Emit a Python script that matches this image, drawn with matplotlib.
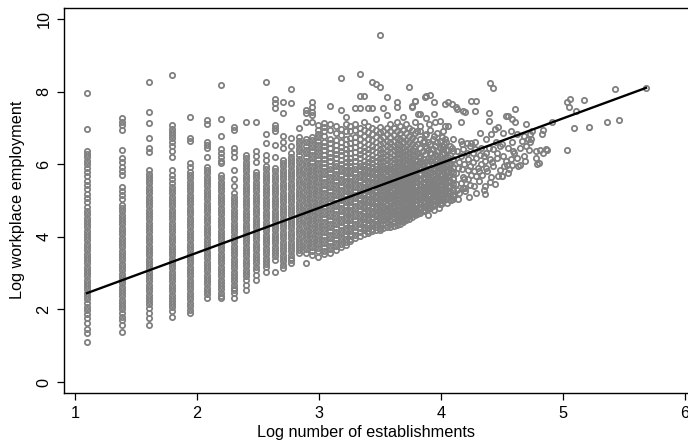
import numpy as np
import matplotlib
matplotlib.use("Agg")
import matplotlib.pyplot as plt

plt.rcParams['font.family'] = ['Liberation Sans', 'DejaVu Sans']

# ---------------- data ----------------
# number of establishments (columns at low counts) and log employment values per column
small_counts = [3, 4, 5, 6, 7, 8, 9, 10, 11, 12, 13, 14, 15, 16, 17, 18, 19, 20]
small_emp = [
    [7.95, 6.96, 6.37, 6.28, 6.19, 6.1, 6.0, 5.9, 5.79, 5.67, 5.55, 5.43, 5.31, 5.19, 5.07, 4.95, 4.83, 4.72, 4.62, 4.53, 4.44, 4.35, 4.26, 4.17, 4.08, 3.99, 3.9, 3.81, 3.72, 3.63, 3.54, 3.45, 3.36, 3.27, 3.18, 3.09, 3.0, 2.91, 2.82, 2.73, 2.64, 2.55, 2.46, 2.37, 2.28, 2.19, 2.08, 1.98, 1.88, 1.76, 1.63, 1.47, 1.36, 1.11],
    [7.26, 7.17, 7.08, 6.94, 6.39, 6.16, 6.05, 5.93, 5.81, 5.7, 5.38, 5.27, 5.15, 5.03, 4.88, 4.79, 4.7, 4.61, 4.52, 4.43, 4.34, 4.25, 4.16, 4.07, 3.98, 3.89, 3.8, 3.71, 3.62, 3.53, 3.44, 3.35, 3.26, 3.17, 3.08, 2.99, 2.9, 2.81, 2.72, 2.63, 2.54, 2.45, 2.36, 2.27, 2.18, 2.09, 2.0, 1.9, 1.8, 1.71, 1.57, 1.39],
    [8.27, 7.45, 7.13, 6.71, 6.45, 6.33, 5.84, 5.74, 5.65, 5.56, 5.47, 5.38, 5.29, 5.2, 5.11, 5.02, 4.93, 4.84, 4.75, 4.66, 4.57, 4.48, 4.39, 4.3, 4.21, 4.12, 4.03, 3.94, 3.85, 3.76, 3.67, 3.58, 3.49, 3.4, 3.31, 3.22, 3.13, 3.04, 2.95, 2.86, 2.77, 2.68, 2.59, 2.5, 2.41, 2.32, 2.23, 2.14, 2.03, 1.9, 1.76, 1.57],
    [8.46, 7.08, 6.98, 6.88, 6.8, 6.71, 6.62, 6.49, 6.35, 6.21, 5.84, 5.7, 5.6, 5.47, 5.38, 5.29, 5.2, 5.11, 5.02, 4.93, 4.84, 4.75, 4.66, 4.57, 4.48, 4.39, 4.3, 4.21, 4.12, 4.03, 3.94, 3.85, 3.76, 3.67, 3.58, 3.49, 3.4, 3.31, 3.22, 3.13, 3.04, 2.95, 2.86, 2.77, 2.68, 2.59, 2.5, 2.41, 2.32, 2.23, 2.14, 2.07, 1.95, 1.8],
    [7.29, 6.72, 6.64, 6.04, 5.93, 5.79, 5.7, 5.61, 5.52, 5.43, 5.34, 5.25, 5.16, 5.07, 4.98, 4.89, 4.8, 4.71, 4.62, 4.53, 4.44, 4.35, 4.26, 4.17, 4.08, 3.99, 3.9, 3.81, 3.72, 3.63, 3.54, 3.45, 3.36, 3.27, 3.18, 3.09, 3.0, 2.91, 2.82, 2.73, 2.64, 2.55, 2.46, 2.37, 2.28, 2.19, 2.1, 1.98, 1.9],
    [7.22, 7.1, 6.62, 6.53, 6.44, 6.21, 5.93, 5.84, 5.75, 5.66, 5.57, 5.48, 5.39, 5.3, 5.21, 5.12, 5.03, 4.94, 4.85, 4.76, 4.67, 4.58, 4.49, 4.4, 4.31, 4.22, 4.13, 4.04, 3.95, 3.86, 3.77, 3.68, 3.59, 3.5, 3.41, 3.32, 3.23, 3.14, 3.05, 2.96, 2.87, 2.78, 2.69, 2.6, 2.51, 2.42, 2.31],
    [8.18, 7.24, 6.78, 6.41, 6.3, 6.2, 6.1, 6.02, 5.7, 5.61, 5.52, 5.43, 5.34, 5.25, 5.16, 5.07, 4.98, 4.89, 4.8, 4.71, 4.62, 4.53, 4.44, 4.35, 4.26, 4.17, 4.08, 3.99, 3.9, 3.81, 3.72, 3.63, 3.54, 3.45, 3.36, 3.27, 3.18, 3.09, 3.0, 2.91, 2.82, 2.73, 2.64, 2.55, 2.46, 2.38, 2.31],
    [7.03, 6.94, 6.45, 6.33, 6.21, 5.84, 5.6, 5.4, 5.2, 5.11, 5.02, 4.93, 4.84, 4.75, 4.66, 4.57, 4.48, 4.39, 4.3, 4.21, 4.12, 4.03, 3.94, 3.85, 3.76, 3.67, 3.58, 3.49, 3.4, 3.31, 3.22, 3.13, 3.04, 2.95, 2.86, 2.77, 2.68, 2.6, 2.53, 2.45, 2.31],
    [7.17, 6.25, 6.16, 6.07, 5.98, 5.89, 5.8, 5.71, 5.62, 5.53, 5.44, 5.35, 5.26, 5.17, 5.08, 4.99, 4.9, 4.81, 4.72, 4.63, 4.54, 4.45, 4.36, 4.27, 4.18, 4.09, 4.0, 3.91, 3.82, 3.73, 3.64, 3.55, 3.46, 3.37, 3.28, 3.19, 3.1, 3.01, 2.92, 2.81, 2.67, 2.53],
    [7.17, 6.37, 6.22, 6.07, 5.79, 5.7, 5.61, 5.52, 5.43, 5.34, 5.25, 5.16, 5.07, 4.98, 4.89, 4.8, 4.71, 4.62, 4.53, 4.44, 4.35, 4.26, 4.17, 4.08, 3.99, 3.9, 3.81, 3.72, 3.63, 3.54, 3.45, 3.36, 3.27, 3.18, 3.09, 2.95, 2.81],
    [8.25, 6.83, 6.58, 6.25, 6.12, 5.95, 5.86, 5.77, 5.68, 5.59, 5.5, 5.41, 5.32, 5.23, 5.14, 5.05, 4.96, 4.87, 4.78, 4.69, 4.6, 4.51, 4.42, 4.33, 4.24, 4.15, 4.06, 3.97, 3.88, 3.79, 3.7, 3.61, 3.52, 3.43, 3.34, 3.25, 3.16, 3.04],
    [7.79, 7.68, 7.54, 7.08, 6.99, 6.9, 6.53, 6.21, 5.89, 5.8, 5.71, 5.62, 5.53, 5.44, 5.35, 5.26, 5.17, 5.08, 4.99, 4.9, 4.81, 4.72, 4.63, 4.54, 4.45, 4.36, 4.27, 4.18, 4.09, 4.0, 3.91, 3.82, 3.73, 3.64, 3.55, 3.46, 3.36, 3.04],
    [7.72, 7.4, 6.78, 6.62, 6.45, 6.12, 6.03, 5.94, 5.85, 5.76, 5.67, 5.58, 5.49, 5.4, 5.31, 5.22, 5.13, 5.04, 4.95, 4.86, 4.77, 4.68, 4.59, 4.5, 4.41, 4.32, 4.23, 4.14, 4.05, 3.96, 3.87, 3.78, 3.69, 3.6, 3.51, 3.42, 3.33, 3.23, 3.14],
    [8.06, 7.68, 6.72, 6.5, 6.3, 6.21, 6.12, 6.03, 5.94, 5.85, 5.76, 5.67, 5.58, 5.49, 5.4, 5.31, 5.22, 5.13, 5.04, 4.95, 4.86, 4.77, 4.68, 4.59, 4.5, 4.41, 4.32, 4.23, 4.14, 4.05, 3.96, 3.87, 3.78, 3.69, 3.6, 3.51, 3.42, 3.35, 3.28],
    [7.0, 6.76, 6.65, 6.55, 6.45, 6.35, 6.25, 6.15, 6.05, 5.96, 5.87, 5.78, 5.69, 5.6, 5.51, 5.42, 5.33, 5.24, 5.15, 5.06, 4.97, 4.88, 4.79, 4.7, 4.61, 4.52, 4.43, 4.34, 4.25, 4.16, 4.07, 3.98, 3.89, 3.8, 3.71, 3.63, 3.55],
    [7.49, 7.4, 7.17, 6.7, 6.6, 6.5, 6.4, 6.3, 6.2, 6.1, 6.0, 5.91, 5.82, 5.73, 5.64, 5.55, 5.46, 5.37, 5.28, 5.19, 5.1, 5.01, 4.92, 4.83, 4.74, 4.65, 4.56, 4.47, 4.38, 4.29, 4.2, 4.11, 4.02, 3.93, 3.84, 3.75, 3.66, 3.55, 3.28],
    [7.7, 7.58, 7.45, 7.36, 7.17, 6.76, 6.66, 6.56, 6.46, 6.36, 6.26, 6.16, 6.06, 5.96, 5.87, 5.78, 5.69, 5.6, 5.51, 5.42, 5.33, 5.24, 5.15, 5.06, 4.97, 4.88, 4.79, 4.7, 4.61, 4.52, 4.43, 4.34, 4.25, 4.16, 4.07, 3.98, 3.89, 3.8, 3.71, 3.6, 3.5],
    [7.08, 6.94, 6.84, 6.74, 6.64, 6.54, 6.44, 6.34, 6.24, 6.14, 6.04, 5.95, 5.86, 5.77, 5.68, 5.59, 5.5, 5.41, 5.32, 5.23, 5.14, 5.05, 4.96, 4.87, 4.78, 4.69, 4.6, 4.51, 4.42, 4.33, 4.24, 4.15, 4.06, 3.97, 3.88, 3.79, 3.7, 3.6, 3.45],
]

mid_counts = list(range(21, 61))
mid_emp = [
    [7.14, 7.03, 6.9, 6.78, 6.62, 6.5, 6.38, 6.26, 6.14, 6.02, 5.92, 5.82, 5.72, 5.62, 5.52, 5.42, 5.32, 5.22, 5.12, 5.02, 4.92, 4.82, 4.72, 4.62, 4.52, 4.42, 4.32, 4.22, 4.12, 4.02, 3.92, 3.82, 3.72, 3.62, 3.52],
    [7.6, 7.1, 6.95, 6.7, 6.58, 6.45, 6.32, 6.2, 6.08, 5.96, 5.86, 5.76, 5.66, 5.56, 5.46, 5.36, 5.26, 5.16, 5.06, 4.96, 4.86, 4.76, 4.66, 4.56, 4.46, 4.36, 4.26, 4.16, 4.06, 3.96, 3.86, 3.76, 3.66, 3.56],
    [7.05, 6.85, 6.66, 6.52, 6.4, 6.28, 6.16, 6.04, 5.94, 5.84, 5.74, 5.64, 5.54, 5.44, 5.34, 5.24, 5.14, 5.04, 4.94, 4.84, 4.74, 4.64, 4.54, 4.44, 4.34, 4.24, 4.14, 4.04, 3.94, 3.84, 3.74, 3.65],
    [8.36, 7.5, 6.98, 6.8, 6.62, 6.48, 6.36, 6.24, 6.12, 6.0, 5.9, 5.8, 5.7, 5.6, 5.5, 5.4, 5.3, 5.2, 5.1, 5.0, 4.9, 4.8, 4.7, 4.6, 4.5, 4.4, 4.3, 4.2, 4.1, 4.0, 3.9, 3.8, 3.72],
    [7.3, 7.1, 6.9, 6.7, 6.55, 6.42, 6.3, 6.18, 6.06, 5.95, 5.85, 5.75, 5.65, 5.55, 5.45, 5.35, 5.25, 5.15, 5.05, 4.95, 4.85, 4.75, 4.65, 4.55, 4.45, 4.35, 4.25, 4.15, 4.05, 3.95, 3.85, 3.77],
    [7.05, 6.9, 6.72, 6.58, 6.44, 6.3, 6.18, 6.06, 5.95, 5.85, 5.75, 5.65, 5.55, 5.45, 5.35, 5.25, 5.15, 5.05, 4.95, 4.85, 4.75, 4.65, 4.55, 4.45, 4.35, 4.25, 4.15, 4.05, 3.95, 3.88],
    [7.56, 7.1, 6.95, 6.75, 6.6, 6.46, 6.33, 6.2, 6.08, 5.96, 5.86, 5.76, 5.66, 5.56, 5.46, 5.36, 5.26, 5.16, 5.06, 4.96, 4.86, 4.76, 4.66, 4.56, 4.46, 4.36, 4.26, 4.16, 4.06, 3.96],
    [8.48, 7.88, 7.56, 7.0, 6.85, 6.68, 6.52, 6.4, 6.28, 6.16, 6.04, 5.94, 5.84, 5.74, 5.64, 5.54, 5.44, 5.34, 5.24, 5.14, 5.04, 4.94, 4.84, 4.74, 4.64, 4.54, 4.44, 4.34, 4.24, 4.14, 4.02],
    [7.88, 7.15, 6.95, 6.78, 6.62, 6.48, 6.35, 6.22, 6.1, 5.98, 5.88, 5.78, 5.68, 5.58, 5.48, 5.38, 5.28, 5.18, 5.08, 4.98, 4.88, 4.78, 4.68, 4.58, 4.48, 4.38, 4.28, 4.18, 4.08],
    [7.56, 7.05, 6.88, 6.7, 6.55, 6.42, 6.3, 6.18, 6.06, 5.95, 5.85, 5.75, 5.65, 5.55, 5.45, 5.35, 5.25, 5.15, 5.05, 4.95, 4.85, 4.75, 4.65, 4.55, 4.45, 4.35, 4.25, 4.15, 4.1],
    [8.27, 7.56, 7.0, 6.82, 6.66, 6.5, 6.38, 6.26, 6.14, 6.02, 5.92, 5.82, 5.72, 5.62, 5.52, 5.42, 5.32, 5.22, 5.12, 5.02, 4.92, 4.82, 4.72, 4.62, 4.52, 4.42, 4.32, 4.22, 4.15],
    [8.2, 7.24, 6.95, 6.76, 6.6, 6.46, 6.33, 6.2, 6.08, 5.96, 5.86, 5.76, 5.66, 5.56, 5.46, 5.36, 5.26, 5.16, 5.06, 4.96, 4.86, 4.76, 4.66, 4.56, 4.46, 4.36, 4.26, 4.18],
    [9.56, 8.13, 7.03, 6.88, 6.7, 6.55, 6.42, 6.3, 6.18, 6.06, 5.95, 5.85, 5.75, 5.65, 5.55, 5.45, 5.35, 5.25, 5.15, 5.05, 4.95, 4.85, 4.75, 4.65, 4.55, 4.45, 4.35, 4.25, 4.2],
    [7.56, 6.9, 6.74, 6.58, 6.44, 6.32, 6.2, 6.08, 5.96, 5.86, 5.76, 5.66, 5.56, 5.46, 5.36, 5.26, 5.16, 5.06, 4.96, 4.86, 4.76, 4.66, 4.56, 4.46, 4.36, 4.24],
    [7.84, 7.36, 7.0, 6.82, 6.65, 6.5, 6.36, 6.24, 6.12, 6.0, 5.9, 5.8, 5.7, 5.6, 5.5, 5.4, 5.3, 5.2, 5.1, 5.0, 4.9, 4.8, 4.7, 4.6, 4.5, 4.4, 4.26],
    [7.1, 6.92, 6.75, 6.6, 6.46, 6.33, 6.2, 6.08, 5.96, 5.86, 5.76, 5.66, 5.56, 5.46, 5.36, 5.26, 5.16, 5.06, 4.96, 4.86, 4.76, 4.66, 4.56, 4.46, 4.36, 4.28],
    [7.0, 6.8, 6.64, 6.5, 6.38, 6.26, 6.14, 6.02, 5.92, 5.82, 5.72, 5.62, 5.52, 5.42, 5.32, 5.22, 5.12, 5.02, 4.92, 4.82, 4.72, 4.62, 4.52, 4.42, 4.3],
    [7.7, 7.58, 7.17, 6.9, 6.72, 6.56, 6.42, 6.3, 6.18, 6.06, 5.95, 5.85, 5.75, 5.65, 5.55, 5.45, 5.35, 5.25, 5.15, 5.05, 4.95, 4.85, 4.75, 4.65, 4.55, 4.45, 4.32],
    [7.05, 6.85, 6.68, 6.52, 6.4, 6.28, 6.16, 6.04, 5.94, 5.84, 5.74, 5.64, 5.54, 5.44, 5.34, 5.24, 5.14, 5.04, 4.94, 4.84, 4.74, 4.64, 4.54, 4.44, 4.35],
    [7.29, 6.95, 6.76, 6.6, 6.46, 6.33, 6.2, 6.08, 5.96, 5.86, 5.76, 5.66, 5.56, 5.46, 5.36, 5.26, 5.16, 5.06, 4.96, 4.86, 4.76, 4.66, 4.56, 4.46, 4.4],
    [7.1, 6.85, 6.66, 6.5, 6.36, 6.24, 6.12, 6.0, 5.9, 5.8, 5.7, 5.6, 5.5, 5.4, 5.3, 5.2, 5.1, 5.0, 4.9, 4.8, 4.7, 4.6, 4.5, 4.45],
    [8.13, 7.0, 6.78, 6.6, 6.45, 6.32, 6.2, 6.08, 5.96, 5.86, 5.76, 5.66, 5.56, 5.46, 5.36, 5.26, 5.16, 5.06, 4.96, 4.86, 4.76, 4.66, 4.56, 4.5],
    [7.58, 6.94, 6.72, 6.55, 6.4, 6.26, 6.14, 6.02, 5.92, 5.82, 5.72, 5.62, 5.52, 5.42, 5.32, 5.22, 5.12, 5.02, 4.92, 4.82, 4.72, 4.62, 4.55],
    [7.74, 7.17, 6.86, 6.66, 6.5, 6.36, 6.24, 6.12, 6.0, 5.9, 5.8, 5.7, 5.6, 5.5, 5.4, 5.3, 5.2, 5.1, 5.0, 4.9, 4.8, 4.7, 4.6],
    [6.9, 6.55, 6.3, 6.1, 5.95, 5.8, 5.65, 5.5, 5.38, 5.25, 5.12, 5.0, 4.88, 4.75, 4.62],
    [7.05, 6.7, 6.45, 6.22, 6.02, 5.86, 5.72, 5.58, 5.44, 5.3, 5.18, 5.05, 4.92, 4.78, 4.66],
    [6.6, 6.35, 6.15, 5.98, 5.8, 5.64, 5.5, 5.36, 5.22, 5.1, 4.98, 4.85, 4.72],
    [6.8, 6.5, 6.28, 6.06, 5.9, 5.74, 5.6, 5.46, 5.32, 5.2, 5.06, 4.94, 4.82, 4.74],
    [6.62, 6.4, 6.18, 6.0, 5.82, 5.66, 5.52, 5.38, 5.25, 5.12, 5.0, 4.88, 4.76],
    [6.95, 6.56, 6.3, 6.08, 5.9, 5.75, 5.6, 5.46, 5.32, 5.18, 5.05, 4.92, 4.8],
    [6.7, 6.42, 6.2, 6.0, 5.84, 5.68, 5.54, 5.4, 5.26, 5.12, 4.98, 4.84],
    [6.5, 6.28, 6.08, 5.9, 5.74, 5.58, 5.44, 5.3, 5.17, 5.04, 4.9],
    [6.85, 6.6, 6.36, 6.15, 5.96, 5.8, 5.64, 5.5, 5.36, 5.22, 5.08, 4.92],
    [6.45, 6.22, 6.02, 5.86, 5.7, 5.55, 5.42, 5.28, 5.14, 5.0, 4.9],
    [6.75, 6.5, 6.28, 6.08, 5.9, 5.74, 5.58, 5.44, 5.3, 5.16, 5.02, 4.94],
    [6.55, 6.3, 6.1, 5.92, 5.76, 5.6, 5.45, 5.3, 5.16, 5.02],
    [6.62, 6.38, 6.16, 5.96, 5.78, 5.62, 5.47, 5.32, 5.18, 5.05],
    [6.4, 6.2, 6.0, 5.82, 5.66, 5.5, 5.36, 5.22, 5.08],
    [6.5, 6.25, 6.04, 5.86, 5.7, 5.55, 5.4, 5.26, 5.12, 5.02],
    [6.35, 6.12, 5.92, 5.75, 5.6, 5.45, 5.3, 5.16, 5.04],
]

# larger places: (log establishments, log employment) pairs
large_log_estab = [
    3.87, 3.91, 3.94, 4.40, 4.43, 5.03, 5.06,
    4.03, 4.06, 4.09, 4.13, 4.18, 4.25, 4.29, 4.28, 4.61,
    3.83, 3.88, 3.94, 3.90, 3.95, 3.99, 4.03, 4.02, 4.06, 4.16, 4.39, 4.39, 4.53, 4.55, 4.58, 4.61, 4.70, 4.91,
    3.83, 3.88, 3.86, 3.94, 3.99, 4.03, 4.10, 4.16, 4.21, 4.25, 4.32, 4.37, 4.41, 4.44, 4.47, 4.51, 4.57, 4.62, 4.68, 4.73, 4.74, 4.83,
    3.88, 3.95, 4.02, 4.09, 4.18, 4.24, 4.28, 4.33, 4.37, 4.43, 4.48, 4.55, 4.59, 4.65, 4.70, 4.78, 4.86, 4.81,
    3.83, 3.91, 3.97, 4.03, 4.10, 4.16, 4.22, 4.29, 4.35, 4.40, 4.46, 4.51, 4.57, 4.62, 4.68, 4.78, 4.80,
    3.86, 3.94, 3.99, 4.05, 4.10, 4.17, 4.24, 4.31, 4.37, 4.43, 4.50, 4.47, 4.56, 4.65, 4.58,
    3.83, 3.90, 3.97, 4.03, 4.10, 4.16, 4.22, 4.29, 4.36, 4.29, 4.36, 4.18, 4.24, 4.13,
    3.86, 3.92, 3.99, 4.06, 4.10, 4.02, 3.95, 3.88, 3.83, 3.91, 3.98, 4.05, 3.86,
    3.85, 3.89, 3.93, 3.96, 3.84, 3.87, 3.92, 3.97, 4.00, 4.04, 4.07, 4.12, 4.15, 4.20, 4.26,
    3.81, 3.84, 3.89, 3.94, 4.00, 4.08, 4.14, 4.19, 4.27, 4.33, 4.40, 4.45, 4.52,
    4.79, 4.84, 4.87, 4.84, 5.03, 5.05, 5.11, 5.09, 5.17, 5.21, 5.36, 5.46, 5.43, 5.68,
    4.50, 4.54, 4.73, 4.71, 4.12, 4.20, 3.81, 3.88, 3.79, 3.76,
    4.11, 4.12, 4.13, 4.14, 4.15, 4.17, 4.18, 4.19, 4.20, 4.21, 4.22, 4.23, 4.25, 4.26, 4.27, 4.28, 4.30, 4.31, 4.32, 4.34,
    4.35, 4.36, 4.38, 4.39, 4.41, 4.42, 4.44, 4.46, 4.48, 4.50, 4.53, 4.55, 4.58, 4.60, 4.63, 4.66, 4.69, 4.72, 4.75,
]
large_log_emp = [
    7.86, 7.90, 7.70, 8.23, 8.09, 7.70, 7.79,
    7.65, 7.72, 7.65, 7.51, 7.47, 7.74, 7.74, 7.47, 7.53,
    7.38, 7.28, 7.38, 7.10, 7.15, 7.19, 7.05, 6.92, 7.05, 7.15, 7.42, 7.19, 7.33, 7.33, 7.24, 7.15, 7.10, 7.15,
    6.92, 6.82, 6.64, 6.78, 6.64, 6.69, 6.69, 6.64, 6.59, 6.59, 6.85, 6.69, 6.82, 6.96, 7.01, 6.87, 6.92, 6.82, 6.78, 6.82, 6.69, 6.82,
    6.45, 6.50, 6.41, 6.45, 6.41, 6.50, 6.41, 6.45, 6.32, 6.41, 6.50, 6.45, 6.36, 6.45, 6.50, 6.36, 6.43, 6.39,
    6.18, 6.13, 6.22, 6.18, 6.13, 6.22, 6.13, 6.18, 6.22, 6.13, 6.18, 6.22, 6.13, 6.18, 6.22, 6.16, 6.04,
    5.86, 5.86, 5.95, 5.81, 5.90, 5.86, 5.95, 5.81, 5.90, 5.95, 5.67, 5.67, 5.86, 5.99, 5.99,
    5.58, 5.63, 5.53, 5.58, 5.63, 5.49, 5.58, 5.67, 5.40, 5.21, 5.17, 5.35, 5.44, 5.30,
    5.26, 5.30, 5.21, 5.26, 5.12, 5.03, 4.98, 5.03, 4.94, 4.84, 4.80, 4.94, 4.70,
    6.00, 5.70, 5.45, 5.10, 5.40, 5.15, 6.30, 5.75, 5.45, 6.00, 5.40, 5.75, 6.05, 5.25, 6.30,
    4.65, 4.80, 4.60, 4.75, 4.90, 5.00, 5.05, 5.60, 5.80, 6.00, 5.50, 6.60, 5.95,
    6.00, 6.30, 6.39, 6.95, 6.39, 7.57, 7.47, 7.00, 7.77, 7.02, 7.17, 7.22, 8.07, 8.09,
    5.68, 5.99, 6.60, 6.70, 7.57, 7.45, 7.38, 7.87, 7.74, 7.60,
    5.15, 5.45, 6.35, 5.90, 5.20, 6.55, 5.65, 6.00, 5.35, 6.30, 5.85, 5.10, 5.70, 6.05, 5.40, 6.60, 5.90, 5.55, 6.25, 5.70,
    5.30, 6.10, 5.80, 6.45, 5.65, 6.05, 5.45, 6.30, 5.85, 6.55, 6.10, 5.75, 6.60, 6.30, 5.95, 6.65, 6.10, 6.40, 6.90,
]

# fitted regression line (end points)
fit_log_estab = [1.0986, 5.68]
fit_log_emp = [2.45, 8.10]

# ---------------- assemble ----------------
xs, ys = [], []
for n, col in zip(small_counts + mid_counts, small_emp + mid_emp):
    xs.extend([np.log(n)] * len(col))
    ys.extend(col)
xs.extend(large_log_estab)
ys.extend(large_log_emp)

# ---------------- plot ----------------
fig = plt.figure(figsize=(6.88, 4.44), dpi=100)
ax = fig.add_axes([64 / 688, 51 / 444, 626 / 688, 385 / 444])

ax.plot(xs, ys, linestyle='none', marker='o', markersize=3.8,
        markerfacecolor='none', markeredgecolor='#808080', markeredgewidth=1.3)
ax.plot(fit_log_estab, fit_log_emp, color='black', linewidth=1.7)

ax.set_xlim(0.91, 6.041)
ax.set_ylim(-0.30, 10.30)
ax.set_xticks([1, 2, 3, 4, 5, 6])
ax.set_yticks([0, 2, 4, 6, 8, 10])
ax.tick_params(direction='out', length=5, width=0.9, labelsize=11.7, pad=4)
for lab in ax.get_yticklabels():
    lab.set_rotation(90)
    lab.set_verticalalignment('center')
for s in ['left', 'bottom', 'top']:
    ax.spines[s].set_linewidth(1.0)
ax.spines['right'].set_visible(False)

fig.text(366 / 688, 1 - 432 / 444, 'Log number of establishments', ha='center', va='center', fontsize=11.7)
fig.text(18 / 688, 1 - 200 / 444, 'Log workplace employment', ha='center', va='center', rotation=90, fontsize=11.7)

fig.savefig('out.png', dpi=100)
